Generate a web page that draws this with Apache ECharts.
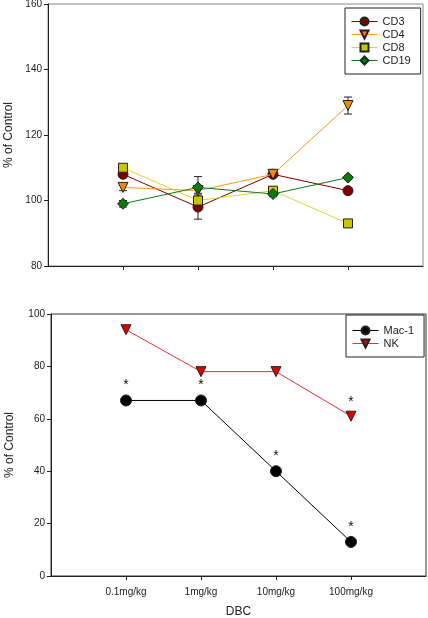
<!DOCTYPE html>
<html>
<head>
<meta charset="utf-8">
<script src="https://cdn.jsdelivr.net/npm/echarts@6/dist/echarts.min.js"></script>
<style>
html,body{margin:0;padding:0;background:#fff;}
#chart{width:428px;height:618px;}
</style>
</head>
<body>
<div id="chart"></div>
<script>
// Categories (DBC dose)
var doses = ['0.1mg/kg', '1mg/kg', '10mg/kg', '100mg/kg'];

// Top panel series (% of Control)
var cd3 = [108, 98, 108, 103];
var cd4 = [104, 103, 108, 129];
var cd8 = [110, 100, 103, 93];
var cd19 = [99, 104, 102, 107];
// Error bars (top panel)
var cd3Err = [0.8, 3.7, 0.5, 0.5];
var cd4Err = [1, 0.8, 0.5, 2.6];
var cd8Err = [0.5, 1, 0.5, 0.5];
var cd19Err = [1, 3.3, 0.8, 0.6];

// Bottom panel series
var mac1 = [67, 67, 40, 13];
var nk = [94, 78, 78, 61];
var mac1Sig = [1, 1, 1, 1];
var nkSig = [0, 0, 0, 1];

// Axis ticks
var topTicks = [80, 100, 120, 140, 160];
var bottomTicks = [0, 20, 40, 60, 80, 100];

var slots = [''].concat(doses).concat(['']);
var FONT = 'Liberation Sans, Arial, sans-serif';

function pts(arr) { return arr.map(function (v, i) { return [i + 1, v]; }); }
function errPts(arr, err) { return arr.map(function (v, i) { return [i + 1, v, err[i]]; }); }
function sigPts(arr, sig) {
  return arr.map(function (v, i) {
    return {value: [i + 1, v], label: {show: !!sig[i]}};
  });
}

function errSeries(name, vals, errs, z) {
  return {
    type: 'custom', xAxisIndex: 0, yAxisIndex: 0, z: z, silent: true,
    data: errPts(vals, errs),
    renderItem: function (params, api) {
      var x = api.value(0), y = api.value(1), e = api.value(2);
      var top = api.coord([x, y + e]);
      var bot = api.coord([x, y - e]);
      var w = 4;
      var st = {stroke: '#222', lineWidth: 1, fill: null};
      return {type: 'group', children: [
        {type: 'line', shape: {x1: top[0], y1: top[1], x2: bot[0], y2: bot[1]}, style: st},
        {type: 'line', shape: {x1: top[0] - w, y1: top[1], x2: top[0] + w, y2: top[1]}, style: st},
        {type: 'line', shape: {x1: bot[0] - w, y1: bot[1], x2: bot[0] + w, y2: bot[1]}, style: st}
      ]};
    }
  };
}

function xAxis(gridIndex, showLabels, name) {
  return {
    type: 'category', gridIndex: gridIndex, data: slots, boundaryGap: false,
    axisLine: {lineStyle: {color: '#222', width: 1}},
    axisTick: {show: true, length: 4, inside: false, alignWithLabel: true,
      interval: function (i) { return i > 0 && i < 5; }, lineStyle: {color: '#222'}},
    axisLabel: {show: showLabels, interval: 0, margin: 11, fontSize: 10, color: '#222', fontFamily: FONT},
    splitLine: {show: false},
    name: name, nameLocation: 'middle', nameGap: 30,
    nameTextStyle: {fontSize: 12, color: '#222', fontFamily: FONT}
  };
}

function yAxis(gridIndex, min, max, gap) {
  return {
    type: 'value', gridIndex: gridIndex, min: min, max: max, interval: 20,
    axisLine: {show: true, lineStyle: {color: '#222', width: 1}},
    axisTick: {show: true, length: 4, inside: false, lineStyle: {color: '#222'}},
    axisLabel: {fontSize: 10, color: '#222', margin: 6, fontFamily: FONT},
    splitLine: {show: false},
    name: '% of Control', nameLocation: 'middle', nameGap: gap, nameRotate: 90,
    nameTextStyle: {fontSize: 12, color: '#222', fontFamily: FONT}
  };
}

function lineSeries(name, data, color, lineColor, symbol, size, rotate, xi, z) {
  return {
    name: name, type: 'line', xAxisIndex: xi, yAxisIndex: xi, z: z,
    data: data, symbol: symbol, symbolSize: size, symbolRotate: rotate,
    showAllSymbol: true,
    lineStyle: {color: lineColor, width: 1},
    itemStyle: {color: color, borderColor: '#222', borderWidth: 1},
    emphasis: {disabled: true},
    animation: false
  };
}

var sigLabel = {show: false, formatter: '*', position: 'top', distance: 2,
  fontSize: 14, color: '#111', fontFamily: FONT};

var s = [
  errSeries('e3', cd3, cd3Err, 2),
  errSeries('e4', cd4, cd4Err, 2),
  errSeries('e8', cd8, cd8Err, 2),
  errSeries('e19', cd19, cd19Err, 2),
  lineSeries('CD3', pts(cd3), '#800000', '#800000', 'circle', 10, 0, 0, 3),
  lineSeries('CD4', pts(cd4), '#f08c00', '#f59a1c', 'triangle', 10, 180, 0, 4),
  lineSeries('CD8', pts(cd8), '#c8c800', '#d8d830', 'rect', 9, 0, 0, 5),
  lineSeries('CD19', pts(cd19), '#0a7a0a', '#127a12', 'diamond', 11, 0, 0, 6)
];
var m = lineSeries('Mac-1', sigPts(mac1, mac1Sig), '#000', '#000', 'circle', 11, 0, 1, 3);
m.label = sigLabel;
var n = lineSeries('NK', sigPts(nk, nkSig), '#e00000', '#e83030', 'triangle', 10, 180, 1, 4);
n.label = sigLabel;
s.push(m, n);

var legendCommon = {
  orient: 'vertical', itemWidth: 26, itemHeight: 10, itemGap: 2,
  backgroundColor: '#fff', borderColor: '#222', borderWidth: 1, borderRadius: 0,
  textStyle: {fontSize: 11, color: '#222', fontFamily: FONT},
  lineStyle: {width: 1},
  selectedMode: false
};

var option = {
  animation: false,
  backgroundColor: '#fff',
  grid: [
    {left: 48, right: 5, top: 4, bottom: 352, show: true, borderColor: '#888', borderWidth: 1,
      containLabel: false, outerBoundsMode: 'none'},
    {left: 51, right: 2, top: 314, bottom: 42, show: true, borderColor: '#333', borderWidth: 1,
      containLabel: false, outerBoundsMode: 'none'}
  ],
  xAxis: [xAxis(0, false, ''), xAxis(1, true, 'DBC')],
  yAxis: [yAxis(0, topTicks[0], topTicks[topTicks.length - 1], 32), yAxis(1, bottomTicks[0], bottomTicks[bottomTicks.length - 1], 35)],
  legend: [
    Object.assign({data: ['CD3', 'CD4', 'CD8', 'CD19'], left: 345, top: 8, padding: [8, 10, 8, 6]}, legendCommon),
    Object.assign({data: ['Mac-1', 'NK'], left: 346, top: 315, padding: [10, 10, 8, 6]}, legendCommon)
  ],
  series: s
};

var chart = echarts.init(document.getElementById('chart'), null, {renderer: 'canvas'});
chart.setOption(option);
</script>
</body>
</html>
